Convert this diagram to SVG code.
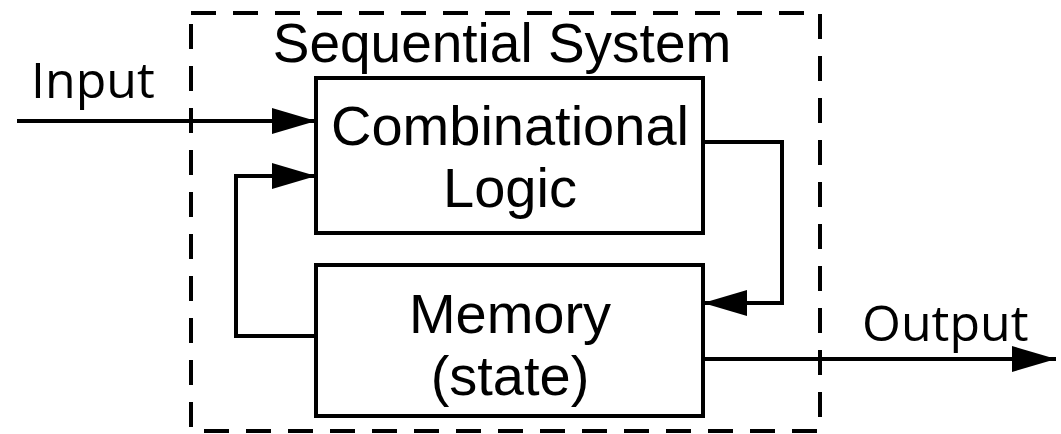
<svg xmlns="http://www.w3.org/2000/svg" width="1061" height="434" viewBox="0 0 1061 434">
  <style>
    text { font-family: "Liberation Sans", Arial, sans-serif; font-size: 56px; fill: #000; }
    .io { font-family: "Open Sans", "Liberation Sans", sans-serif; font-size: 50px; }
    .box { fill: #fff; stroke: #000; stroke-width: 4; }
    .wire { fill: none; stroke: #000; stroke-width: 4; }
    .frame { fill: none; stroke: #000; stroke-width: 4; stroke-dasharray: 25 17; }
  </style>
  <defs>
    <marker id="arrow" viewBox="0 0 44 26" refX="44" refY="13" markerWidth="44" markerHeight="26" markerUnits="userSpaceOnUse" orient="auto">
      <path d="M0,0 L44,13 L0,26 Z" fill="#000"/>
    </marker>
  </defs>

  <!-- dashed system boundary -->
  <g id="system">
    <rect class="frame" x="191" y="13" width="629" height="418"/>
    <text x="502" y="62" text-anchor="middle" style="font-size:55px">Sequential System</text>
  </g>

  <g id="combinational-logic">
    <rect class="box" x="316" y="78" width="387" height="155"/>
    <text x="510" y="145" text-anchor="middle">Combinational</text>
    <text x="510" y="207" text-anchor="middle">Logic</text>
  </g>

  <g id="memory">
    <rect class="box" x="316" y="265" width="387" height="151"/>
    <text x="510" y="333" text-anchor="middle">Memory</text>
    <text x="510" y="395" text-anchor="middle">(state)</text>
  </g>

  <g id="connectors">
    <path class="wire" d="M17,121 H316" marker-end="url(#arrow)"/>
    <path class="wire" d="M316,336 H236 V176 H316" marker-end="url(#arrow)"/>
    <path class="wire" d="M703,142 H782 V303 H703" marker-end="url(#arrow)"/>
    <path class="wire" d="M703,359 H1056" marker-end="url(#arrow)"/>
  </g>

  <g id="labels">
    <text class="io" x="31" y="98">Input</text>
    <text class="io" x="862" y="341">Output</text>
  </g>
</svg>
